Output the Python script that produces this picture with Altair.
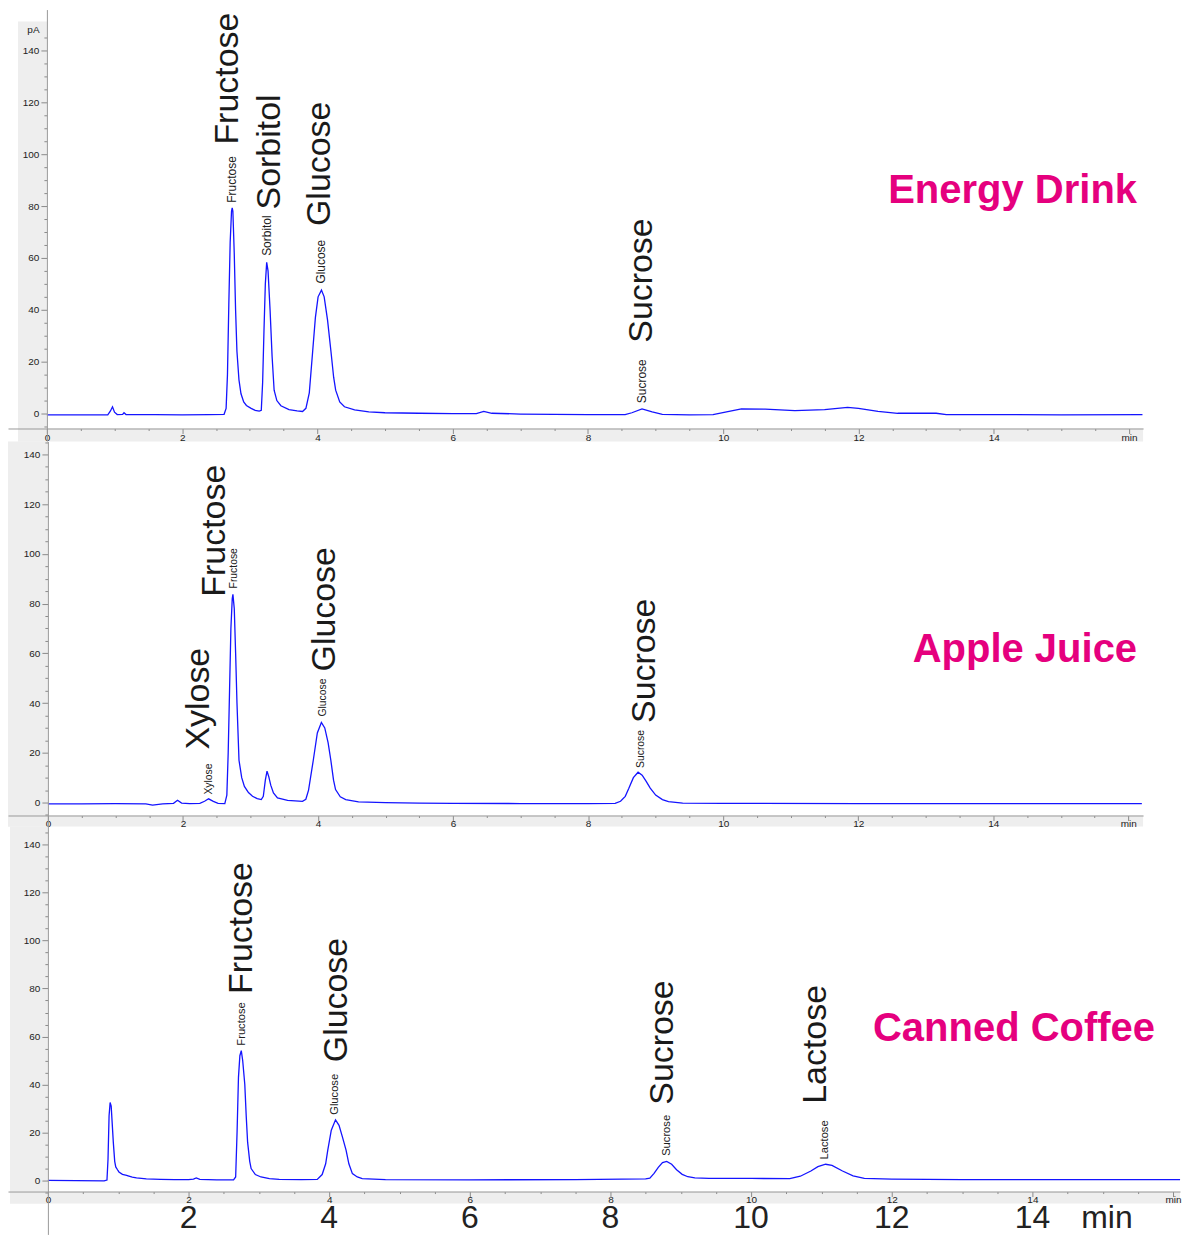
import altair as alt
import pandas as pd

# ---------------- data ----------------
# Energy Drink trace: retention time (min) and detector signal (pA)
ed_time = [0.0, 0.5, 0.9, 0.94, 0.97, 1.0, 1.04, 1.12, 1.14, 1.17, 1.6, 2.0, 2.4, 2.62, 2.65, 2.67,
           2.69, 2.71, 2.73, 2.74, 2.75, 2.77, 2.79, 2.81, 2.84, 2.87, 2.91, 2.95, 3.02, 3.08, 3.14,
           3.17, 3.19, 3.21, 3.23, 3.25, 3.27, 3.30, 3.33, 3.36, 3.40, 3.46, 3.58, 3.70, 3.78, 3.83,
           3.88, 3.93, 3.97, 4.01, 4.06, 4.10, 4.15, 4.20, 4.24, 4.27, 4.33, 4.40, 4.55, 4.76, 5.0,
           5.5, 6.0, 6.35, 6.46, 6.58, 7.0, 7.5, 8.0, 8.55, 8.65, 8.80, 8.95, 9.10, 9.5, 9.85, 10.05,
           10.27, 10.62, 11.06, 11.5, 11.84, 12.0, 12.29, 12.58, 13.15, 13.3, 14.0, 15.0, 16.2]
ed_pa = [-0.5, -0.5, -0.5, 1.0, 2.6, 0.5, -0.4, -0.3, 0.3, -0.4, -0.4, -0.5, -0.4, -0.3, 2, 15,
         42, 66, 78, 79.3, 78, 62, 40, 24, 13, 7.6, 4.5, 3.1, 2.0, 1.2, 0.9,
         1.2, 12, 32, 50, 58.3, 55, 40, 22, 9, 5, 3, 1.5, 1.0, 0.8, 2.0,
         8, 24, 37, 45, 47.6, 45, 36, 24, 14, 9, 4.5, 2.6, 1.4, 0.6, 0.3,
         0.1, 0.0, 0.0, 0.8, 0.1, -0.2, -0.3, -0.4, -0.4, 0.3, 1.8, 0.6, -0.3, -0.5, -0.4, 0.6,
         1.8, 1.7, 1.15, 1.5, 2.4, 2.0, 0.8, 0.1, 0.1, -0.4, -0.4, -0.5, -0.4]

# Apple Juice trace
aj_time = [0.0, 0.5, 1.0, 1.45, 1.55, 1.7, 1.86, 1.92, 1.98, 2.1, 2.25, 2.32, 2.38, 2.45, 2.52,
           2.62, 2.65, 2.67, 2.69, 2.71, 2.73, 2.74, 2.76, 2.78, 2.80, 2.83, 2.87, 2.91, 2.97, 3.03,
           3.10, 3.16, 3.19, 3.22, 3.245, 3.27, 3.30, 3.34, 3.40, 3.55, 3.77, 3.82, 3.86, 3.93, 3.99,
           4.05, 4.10, 4.15, 4.19, 4.23, 4.26, 4.33, 4.41, 4.6, 5.0, 5.5, 6.0, 7.0, 8.0, 8.4, 8.48,
           8.55, 8.60, 8.67, 8.74, 8.80, 8.86, 8.92, 9.0, 9.1, 9.19, 9.4, 10.0, 12.0, 14.0, 16.2]
aj_pa = [-0.5, -0.5, -0.4, -0.5, -1.0, -0.5, -0.3, 0.9, -0.2, -0.4, -0.3, 0.5, 1.5, 0.5, -0.3,
         -0.4, 3, 20, 45, 70, 82, 83.7, 78, 60, 40, 17, 10, 6.5, 4, 2.5,
         1.6, 1.2, 2.5, 9, 12.6, 10.5, 7, 3.9, 1.9, 0.9, 0.5, 1.3, 5, 17, 28,
         32.2, 30, 24, 17, 9, 5.2, 2.3, 1.2, 0.3, 0.0, -0.2, -0.3, -0.4, -0.4, -0.3, 0.5,
         2.5, 5.5, 10, 12.2, 11, 8.5, 5.8, 3, 1.2, 0.4, -0.2, -0.3, -0.4, -0.4, -0.4]

# Canned Coffee trace
cc_time = [0.0, 0.4, 0.8, 0.84, 0.855, 0.87, 0.885, 0.90, 0.91, 0.93, 0.95, 0.965, 0.99, 1.01, 1.06,
           1.12, 1.14, 1.2, 1.26, 1.4, 1.6, 1.8, 2.0, 2.07, 2.11, 2.16, 2.4, 2.64, 2.67, 2.69, 2.71,
           2.73, 2.75, 2.77, 2.80, 2.82, 2.84, 2.87, 2.89, 2.95, 3.03, 3.15, 3.29, 3.6, 3.83, 3.90,
           3.95, 3.98, 4.03, 4.09, 4.14, 4.19, 4.24, 4.28, 4.33, 4.40, 4.47, 4.8, 6.0, 7.5, 8.5,
           8.56, 8.62, 8.68, 8.74, 8.80, 8.87, 8.94, 9.02, 9.10, 9.20, 9.40, 10.0, 10.55, 10.70,
           10.85, 10.95, 11.06, 11.15, 11.30, 11.45, 11.61, 12.0, 13.0, 14.0, 16.1]
cc_pa = [0.1, 0.0, -0.1, 0.2, 9, 27, 32.5, 31, 26, 16, 8, 5.7, 4.5, 3.6, 2.6,
         2.2, 2.0, 1.4, 1.1, 0.7, 0.5, 0.4, 0.4, 0.6, 1.1, 0.5, 0.3, 0.3, 1.5, 20, 43,
         52, 54.1, 50, 40, 27, 16, 8, 5, 2.5, 1.5, 0.8, 0.5, 0.4, 0.5, 2.5,
         7, 12.7, 21, 25.3, 23, 18, 12.7, 7, 2.9, 1.5, 0.8, 0.4, 0.3, 0.4, 0.7,
         1.0, 3, 5.5, 7.5, 8.0, 6.8, 4.5, 2.6, 1.6, 1.1, 0.9, 0.9, 0.8, 1.8,
         4.0, 5.8, 6.8, 6.3, 4.0, 2.0, 0.9, 0.6, 0.4, 0.4, 0.4]

# Peak annotations: name, small label anchor (min, pA), big label anchor (min, pA)
ed_names = ["Fructose", "Sorbitol", "Glucose", "Sucrose"]
ed_small_t = [2.743, 3.252, 4.049, 8.805]
ed_small_pa = [81.3, 60.8, 50.1, 4.0]
ed_big_t = [2.677, 3.304, 4.041, 8.80]
ed_big_pa = [103.7, 78.7, 72.3, 27.3]

aj_names = ["Xylose", "Fructose", "Glucose", "Sucrose"]
aj_small_t = [2.393, 2.762, 4.069, 8.781]
aj_small_pa = [3.2, 86.1, 34.6, 13.9]
aj_big_t = [2.238, 2.474, 4.106, 8.84]
aj_big_pa = [21.3, 82.8, 52.7, 32.0]

cc_names = ["Fructose", "Glucose", "Sucrose", "Lactose"]
cc_small_t = [2.766, 4.085, 8.801, 11.057]
cc_small_pa = [56.2, 27.4, 10.3, 8.8]
cc_big_t = [2.759, 4.106, 8.745, 10.929]
cc_big_pa = [77.7, 49.3, 31.6, 32.0]

sample_titles = ["Energy Drink", "Apple Juice", "Canned Coffee"]
title_t = [16.12, 16.13, 15.745]
title_pa = [85.8, 61.4, 63.1]

x_tick_values = [i / 2 for i in range(0, 33)]
y_tick_values = list(range(-5, 150, 5))
big_axis_text = ["2", "4", "6", "8", "10", "12", "14", "min"]
big_axis_t = [2, 4, 6, 8, 10, 12, 14, 15.06]

# ---------------- layout calibration (page pixels) ----------------
CAL = [
    dict(x0=47, kx=67.8, y0=413, ky=2.6, top=8, bottom=441, left=8, right=1146,
         band_left=18, band_top=20, band_bottom=441, axis_y=428, lab_pad=-1),
    dict(x0=48, kx=67.7, y0=803, ky=2.493, top=441, bottom=827, left=8, right=1146,
         band_left=8, band_top=441, band_bottom=827, axis_y=816, lab_pad=-2),
    dict(x0=48, kx=70.5, y0=1182, ky=2.407, top=827, bottom=1236, left=8, right=1183,
         band_left=10, band_top=827, band_bottom=1205, axis_y=1193, lab_pad=-2),
]
BIG_AXIS_BASELINE_PX = 1230

GRAY = "#eeeeee"
LINE = "#1414ff"
PINK = "#e5007e"
TXT = "#1a1a1a"


def panel(i, time, pa, names, st, sp, bt, bp, small_size, with_pa=False, big_axis=False):
    c = CAL[i]
    px = lambda p: (p - c["x0"]) / c["kx"]
    py = lambda p: (c["y0"] - p) / c["ky"]
    xmin, xmax = px(c["left"]), px(c["right"])
    ymin, ymax = py(c["bottom"]), py(c["top"])
    xs = alt.Scale(domain=[xmin, xmax], nice=False, zero=False)
    ys = alt.Scale(domain=[ymin, ymax], nice=False, zero=False)
    xaxis = alt.Axis(
        values=x_tick_values, grid=False, title=None, zindex=1, minExtent=0,
        offset=-(c["bottom"] - c["axis_y"]),
        labelExpr="datum.value === 16 ? 'min' : (datum.value % 2 === 0 ? format(datum.value, 'd') : '')",
        labelFont="Liberation Sans", labelFontSize=10, labelColor="#222222",
        labelPadding=c["lab_pad"], labelFlush=False, labelOverlap=False,
        domainColor="#9a9a9a", tickColor="#8a8a8a",
        tickSize={"condition": {"test": "datum.value % 2 === 0", "value": 5}, "value": 2},
    )
    yaxis_kw = dict(
        values=y_tick_values, grid=False, zindex=1, minExtent=0,
        offset=-(c["x0"] - c["left"]),
        labelExpr="(datum.value % 20 === 0 && datum.value >= 0) ? format(datum.value, 'd') : ''",
        labelFont="Liberation Sans", labelFontSize=10, labelColor="#222222",
        labelPadding=2, labelFlush=False, labelOverlap=False,
        domainColor="#9a9a9a", tickColor="#8a8a8a",
        tickSize={"condition": {"test": "datum.value % 20 === 0", "value": 6}, "value": 3},
    )
    if with_pa:
        yaxis = alt.Axis(title="pA", titleAngle=0, titleX=-14, titleY=20, titleAlign="center",
                         titleBaseline="middle", titleFont="Liberation Sans", titleFontSize=10,
                         titleFontWeight="normal", titleColor="#222222", **yaxis_kw)
    else:
        yaxis = alt.Axis(title=None, **yaxis_kw)

    X = lambda f: alt.X(f, type="quantitative", scale=xs, axis=xaxis)
    Y = lambda f: alt.Y(f, type="quantitative", scale=ys, axis=yaxis)

    bands = pd.DataFrame({
        "x0": [px(c["band_left"]), px(c["band_left"])],
        "x1": [0.0, xmax],
        "y0": [py(c["band_bottom"]), py(c["band_bottom"])],
        "y1": [py(c["band_top"]), py(c["axis_y"])],
    })
    band_layer = alt.Chart(bands).mark_rect(color=GRAY).encode(
        x=X("x0"), x2="x1", y=Y("y0"), y2="y1")

    trace = pd.DataFrame({"t": time, "pa": pa})
    line_layer = alt.Chart(trace).mark_line(color=LINE, strokeWidth=1.3).encode(
        x=X("t"), y=Y("pa"))

    small = pd.DataFrame({"t": st, "pa": sp, "name": names})
    small_layer = alt.Chart(small).mark_text(
        angle=270, align="left", baseline="middle", font="Liberation Sans",
        fontSize=small_size, color="#202020").encode(x=X("t"), y=Y("pa"), text="name:N")

    big = pd.DataFrame({"t": bt, "pa": bp, "name": names})
    big_layer = alt.Chart(big).mark_text(
        angle=270, align="left", baseline="middle", font="Liberation Sans",
        fontSize=34, color=TXT).encode(x=X("t"), y=Y("pa"), text="name:N")

    ttl = pd.DataFrame({"t": [title_t[i]], "pa": [title_pa[i]], "name": [sample_titles[i]]})
    title_layer = alt.Chart(ttl).mark_text(
        align="right", baseline="middle", font="Liberation Sans", fontSize=40.1,
        fontWeight="bold", color=PINK).encode(x=X("t"), y=Y("pa"), text="name:N")

    layers = [band_layer, line_layer, small_layer, big_layer, title_layer]
    if big_axis:
        ba = pd.DataFrame({"t": big_axis_t,
                           "pa": [py(BIG_AXIS_BASELINE_PX)] * len(big_axis_t),
                           "name": big_axis_text})
        layers.append(alt.Chart(ba).mark_text(
            align="center", baseline="alphabetic", font="Liberation Sans", fontSize=32,
            color="#222222").encode(x=X("t"), y=Y("pa"), text="name:N"))

    return alt.layer(*layers).properties(
        width=c["right"] - c["left"], height=c["bottom"] - c["top"])


p1 = panel(0, ed_time, ed_pa, ed_names, ed_small_t, ed_small_pa, ed_big_t, ed_big_pa, 12,
           with_pa=True)
p2 = panel(1, aj_time, aj_pa, aj_names, aj_small_t, aj_small_pa, aj_big_t, aj_big_pa, 10.4)
p3 = panel(2, cc_time, cc_pa, cc_names, cc_small_t, cc_small_pa, cc_big_t, cc_big_pa, 11.2,
           big_axis=True)

chart = alt.vconcat(p1, p2, p3, spacing=0, bounds="flush").properties(
    padding={"left": 0, "top": 0, "right": 0, "bottom": 0},
    background="white",
).configure_view(stroke=None)

chart.save("out.html", embed_options={"renderer": "svg", "actions": False})
